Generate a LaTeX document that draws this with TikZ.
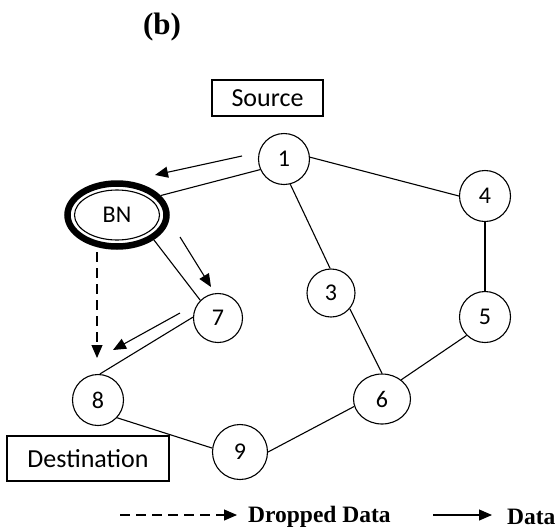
\documentclass[tikz,border=0pt]{standalone}
\usepackage{fontspec}
\setmainfont{Liberation Serif}
\newfontfamily\labelfont{Carlito}
\usetikzlibrary{positioning,shapes.geometric,arrows.meta,calc}

\begin{document}
\begin{tikzpicture}[
  x=1pt, y=-1pt,
  vertex/.style={draw, circle, line width=1.1pt, minimum size=51pt, inner sep=0pt, font=\labelfont\fontsize{24}{26}\selectfont},
  tagbox/.style={draw, line width=1.3pt, inner sep=0pt, font=\labelfont\fontsize{26}{28}\selectfont},
  link/.style={line width=1.1pt},
  arrow/.style={-{Triangle[length=13pt,width=11pt]}, line width=1.1pt},
  dropped/.style={arrow, dash pattern=on 10pt off 6pt},
  legend/.style={font=\bfseries\fontsize{23.5}{26}\selectfont, anchor=west, inner sep=0pt}
]
\useasboundingbox (0,0) rectangle (555,531);

% Title
\node[font=\bfseries\fontsize{31}{34}\selectfont] (title) at (162,27) {(b)};

% Labels
\node[tagbox, minimum width=111pt, minimum height=36pt] (src) at (267.5,98) {Source};
\node[tagbox, minimum width=162pt, minimum height=45pt] (dst) at (88,458.5) {Destination};

% Black node
\node[draw, ellipse, line width=6.5pt, minimum width=99pt, minimum height=63pt] (BN) at (117,215) {};
\node[draw, ellipse, line width=1.1pt, minimum width=85pt, minimum height=50pt, font=\labelfont\fontsize{24}{26}\selectfont] (BNin) at (BN) {BN};

% Nodes
\node[vertex] (n1) at (284,159) {1};
\node[vertex] (n4) at (485,196) {4};
\node[vertex, minimum size=48pt] (n3) at (331,293) {3};
\node[vertex] (n5) at (485,317) {5};
\node[vertex, minimum size=49pt] (n7) at (218,318) {7};
\node[vertex] (n8) at (98,400) {8};
\node[vertex, ellipse, minimum width=57pt, minimum height=50pt] (n6) at (382,399) {6};
\node[vertex, minimum size=55pt] (n9) at (240,452) {9};

% Links
\draw[link] (n1.4) -- (n4.180);
\draw[link] (n1.284) -- (n3.92);
\draw[link] (BN.24) -- (n1.204);
\draw[link] (n4.south) -- (n5.north);
\draw[link] (n3.320) -- (n6.north);
\draw[link] (n5.225) -- (n6.45);
\draw[link] (n6.195) -- (n9.0);
\draw[link] (n8.317) -- (n9.172);
\draw[link] (n7.178) -- (n8.86);
\draw[link] (BN.326) -- (n7.135);

% Data flow
\coordinate (f1) at (242,156);
\coordinate (f2) at (155,175);
\coordinate (f3) at (180,237);
\coordinate (f4) at (211,287);
\coordinate (f5) at (180,313);
\coordinate (f6) at (113,350);
\coordinate (d1) at (97,252);
\coordinate (d2) at (97,358);
\draw[arrow] (f1) -- (f2);
\draw[arrow] (f3) -- (f4);
\draw[arrow] (f5) -- (f6);
\draw[dropped] (d1) -- (d2);

% Legend
\coordinate (l1) at (120,515);
\coordinate (l2) at (237,515);
\coordinate (l3) at (433,515);
\coordinate (l4) at (492,515);
\draw[dropped] (l1) -- (l2);
\node[legend] (droptxt) at (248,517) {Dropped Data};
\draw[arrow] (l3) -- (l4);
\node[legend] (datatxt) at (507,517) {Data};

\end{tikzpicture}
\end{document}
